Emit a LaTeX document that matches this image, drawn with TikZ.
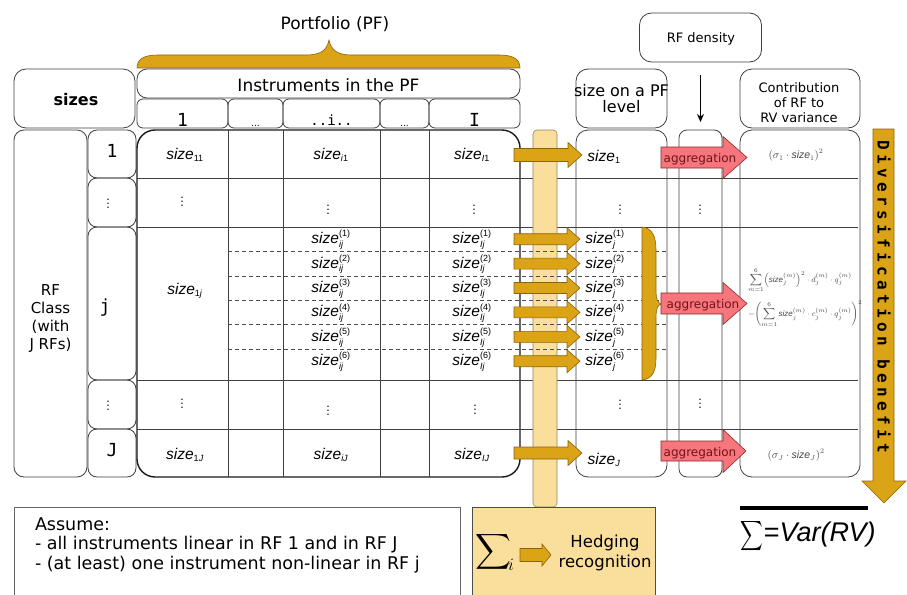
\documentclass[tikz,border=0pt]{standalone}
\usepackage{amsmath}
\usepackage{graphicx}
\usepackage{fontspec}
\setmainfont{DejaVu Sans}
\newfontfamily\arialf{Liberation Sans}
\newfontfamily\monof{DejaVu Sans Mono}
\newfontfamily\divf[LetterSpace=27]{DejaVu Sans Mono}
\usetikzlibrary{arrows.meta}
\definecolor{gold}{RGB}{219,163,22}
\definecolor{golddark}{RGB}{140,100,10}
\definecolor{lightgold}{RGB}{249,222,156}
\definecolor{lgline}{RGB}{150,130,90}
\definecolor{pinkfill}{RGB}{247,117,124}
\definecolor{pinkline}{RGB}{140,40,40}
\definecolor{aggtext}{RGB}{110,20,25}
\definecolor{frm}{RGB}{70,70,70}
\newcommand\fsz[1]{\fontsize{#1}{#1}\selectfont}
\newcommand\subsz[1]{\mbox{\fsz{9}#1}}
\newcommand\supsz[1]{\mbox{\fsz{9}#1}}
\newcommand\szA[1]{\textit{size}$_{\subsz{#1}}$}
\newcommand\szB[2]{\textit{size}$_{\subsz{#1}}^{\supsz{#2}}$}
\newcommand\szt{\text{\arialf\itshape size}}
\newcommand\blockarr[7]{\path[#1] (#2,#5-#6/2) -- (#4,#5-#6/2) -- (#4,#5-#7/2) -- (#3,#5) -- (#4,#5+#7/2) -- (#4,#5+#6/2) -- (#2,#5+#6/2) -- cycle;}
\begin{document}
\begin{tikzpicture}[x=1pt,y=-1pt,
  every node/.style={inner sep=0pt,outer sep=0pt},
  rbox/.style={draw=black!75, line width=0.8pt, rounded corners=#1},
  rbox/.default=10pt,
  tbl/.style={draw=black!90, line width=1.4pt, rounded corners=18pt},
  gridl/.style={draw=black!75, line width=0.7pt},
  dashl/.style={draw=black!70, line width=0.6pt, dash pattern=on 4pt off 3pt},
  goldarr/.style={fill=gold, draw=golddark, line width=0.6pt},
  pinkarr/.style={fill=pinkfill, draw=pinkline, line width=0.6pt},
  cell/.style={font=\arialf\fsz{15.5}, anchor=base},
  dots/.style={font=\fsz{11}},
  aggt/.style={font=\fsz{12}, text=aggtext, anchor=base},
  lbl/.style={anchor=base},
  frmt/.style={text=frm}]
\useasboundingbox (0,0) rectangle (907,594);
\fill[white] (0,0) rectangle (907,594);

% top brace and title
\path[fill=gold, draw=golddark, line width=0.6pt] (137,68) .. controls (137,59) and (144,55) .. (158,55) -- (306,55) .. controls (321,55) and (327,50) .. (329,40) .. controls (331,50) and (337,55) .. (352,55) -- (499,55) .. controls (513,55) and (520,59) .. (520,68) -- cycle;
\node[lbl, font=\fsz{17}] (pf) at (335,30) {Portfolio (PF)};

% header boxes
\node[rbox=12pt, minimum width=121pt, minimum height=59pt] (sizesb) at (74.5,98.5) {};
\node[lbl, font=\bfseries\fsz{16}] (sizest) at (76,105) {sizes};
\node[rbox=10pt, minimum width=383pt, minimum height=29pt] (instr) at (328.5,83.5) {};
\node[lbl, font=\fsz{17}] (instrt) at (328.5,91) {Instruments in the PF};
\foreach \nm/\cx/\w in {c1/182.5/91, c2/255.5/55, c3/331.5/97, c4/404.5/49, c5/474.5/91}
  \node[rbox=6pt, minimum width=\w pt, minimum height=29pt] (\nm) at (\cx,113.5) {};
\node[lbl, font=\monof\fsz{18}] (c1t) at (182.5,126) {1};
\node[lbl, font=\fsz{9}] (c2t) at (255.5,126) {...};
\node[lbl, font=\monof\fsz{14}] (c3t) at (331.5,125) {..i..};
\node[lbl, font=\fsz{9}] (c4t) at (404.5,126) {...};
\node[lbl, font=\monof\fsz{18}] (c5t) at (474.5,126) {I};

% left columns
\node[rbox=10pt, minimum width=73pt, minimum height=347pt] (rfclass) at (50.5,303.5) {};
\node[font=\fontsize{15}{18}\selectfont, align=center] (rfclasst) at (50.5,319) {RF\\Class\\(with\\J RFs)};
\foreach \nm/\cy/\h in {r1/154/48, r2/202.5/49, r3/303.5/153, r4/404.5/49, r5/453/48}
  \node[rbox=9pt, minimum width=48pt, minimum height=\h pt] (\nm) at (112,\cy) {};
\node[font=\monof\fsz{18}] (r1t) at (112,151) {1};
\node[dots] (r2t) at (108,201) {$\vdots$};
\node[font=\monof\fsz{18}] (r3t) at (105,308) {j};
\node[dots] (r4t) at (108,403) {$\vdots$};
\node[font=\monof\fsz{18}] (r5t) at (112,450) {J};

% right column boxes
\node[rbox=12pt, minimum width=91pt, minimum height=59pt] (szhdr) at (621.5,98.5) {};
\node[lbl, font=\fsz{16}] (szh1) at (621.5,96.5) {size on a PF};
\node[lbl, font=\fsz{16}] (szh2) at (621.5,112.5) {level};
\node[rbox=12pt, minimum width=91pt, minimum height=347pt] (szbody) at (621.5,303.5) {};
\node[rbox=12pt, minimum width=122pt, minimum height=49pt] (dhdr) at (700.5,37.5) {};
\node[lbl, font=\fsz{13}] (dhdrt) at (701,42.5) {RF density};
\node[rbox=8pt, minimum width=43pt, minimum height=347pt] (dbody) at (700.5,303.5) {};
\node[rbox=12pt, minimum width=120pt, minimum height=59pt] (chdr) at (800,98.5) {};
\node[lbl, font=\fsz{13}] (ch1) at (799,92.5) {Contribution};
\node[lbl, font=\fsz{13}] (ch2) at (799,107.5) {of RF to};
\node[lbl, font=\fsz{13}] (ch3) at (799,122.5) {RV variance};
\node[rbox=12pt, minimum width=120pt, minimum height=347pt] (cbody) at (800,303.5) {};
\draw[-{Stealth[length=8pt,width=7pt]}, line width=1pt] ([yshift=-13pt]dhdr.south) -- ([yshift=8pt]dbody.north);

% table
\draw[tbl] (137,130) rectangle (520,477);
\foreach \x in {228,283,380,429} \draw[gridl] (\x,130) -- (\x,477);
\foreach \y in {178,227,380,429} \draw[gridl] (137,\y) -- (858,\y);

% hedging bar and boxes
\node[draw=lgline, fill=lightgold, rounded corners=4pt, line width=0.6pt, minimum width=24pt, minimum height=377pt] (bar) at (545,318.5) {};
\node[draw=black!70, fill=lightgold, line width=0.8pt, minimum width=183pt, minimum height=93pt] (hedge) at (563.5,553.5) {};
\node[draw=black!60, line width=0.8pt, minimum width=446pt, minimum height=93pt] (assume) at (237,553.5) {};

% dashed sub-rows
\foreach \y in {251.4,275.8,300.2,324.6,349} \draw[dashl] (228,\y) -- (667,\y);

% golden arrows
\blockarr{goldarr}{514}{582}{568}{155}{13}{25}
\foreach \y in {239.2,263.6,288,312.4,336.8,361.2} {\blockarr{goldarr}{514}{580}{567}{\y}{11}{23}}
\blockarr{goldarr}{514}{582}{568}{453}{12}{25}

% brace in size column
\path[fill=gold, draw=golddark, line width=0.6pt] (642,227) .. controls (652,228) and (656,236) .. (656,250) -- (656,292) .. controls (656,299) and (658,303) .. (661,304) .. controls (658,305) and (656,309) .. (656,316) -- (656,358) .. controls (656,372) and (652,379) .. (642,380) -- cycle;

% aggregation arrows
\blockarr{pinkarr}{661}{747}{723}{157.5}{21}{42}
\blockarr{pinkarr}{661}{747}{723}{303.5}{21}{42}
\blockarr{pinkarr}{661}{746}{723}{451}{20}{43}
\node[aggt] (ag1) at (700,162) {aggregation};
\node[aggt] (ag2) at (703,308) {aggregation};
\node[aggt] (ag3) at (700,456) {aggregation};

% diversification arrow
\path[goldarr] (873,129) -- (894,129) -- (894,481) -- (906,481) -- (884,503) -- (862,481) -- (873,481) -- cycle;
\node[rotate=-90, font=\divf\bfseries\fsz{16}] (div) at (884,297) {Diversification benefit};

% cell texts
\node[cell] (s11) at (185,159) {\szA{11}};
\node[cell] (si1) at (331,159) {\szA{\textit{i}1}};
\node[cell] (sI1) at (472,159) {\szA{\textit{I}1}};
\node[cell] (s1) at (604,161) {\szA{1}};
\node[dots] (d21) at (182,199) {$\vdots$};
\node[dots] (d22) at (328,207) {$\vdots$};
\node[dots] (d23) at (474,207) {$\vdots$};
\node[dots] (d24) at (620,207) {$\vdots$};
\node[dots] (d25) at (700,207) {$\vdots$};
\node[cell] (s1j) at (185,294) {\szA{1\textit{j}}};
\foreach \y [count=\k] in {239.2,263.6,288,312.4,336.8,361.2} {
  \node[cell] (sij\k) at (331,\y+4.5) {\szB{\textit{ij}}{(\k)}};
  \node[cell] (sIj\k) at (472,\y+4.5) {\szB{\textit{Ij}}{(\k)}};
  \node[cell] (sj\k) at (605,\y+4.5) {\szB{\textit{j}}{(\k)}};
}
\node[dots] (d41) at (182,401) {$\vdots$};
\node[dots] (d42) at (328,408) {$\vdots$};
\node[dots] (d43) at (475,407) {$\vdots$};
\node[dots] (d44) at (620,402) {$\vdots$};
\node[dots] (d45) at (700,401) {$\vdots$};
\node[cell] (s1J) at (185,459) {\szA{1\textit{J}}};
\node[cell] (siJ) at (331,459) {\szA{\textit{iJ}}};
\node[cell] (sIJ) at (472,459) {\szA{\textit{IJ}}};
\node[cell] (sJ) at (604,464) {\szA{\textit{J}}};

% formulas
\node[frmt, font=\fsz{10.5}] (fr1) at (796,155) {$\left(\sigma_1\cdot\szt_1\right)^2$};
\node[frmt, font=\fsz{10.5}] (fr3) at (796,455) {$\left(\sigma_J\cdot\szt_J\right)^2$};
\node[frmt, font=\fsz{8}, anchor=west] (fr2a) at (748,280) {$\displaystyle\sum_{m=1}^{6}\Bigl(\szt_j^{(m)}\Bigr)^{2}\cdot d_j^{(m)}\cdot q_j^{(m)}$};
\node[frmt, font=\fsz{8}, anchor=west] (fr2b) at (748,314) {$\displaystyle-\Biggl(\sum_{m=1}^{6}\szt_j^{(m)}\cdot c_j^{(m)}\cdot q_j^{(m)}\Biggr)^{2}$};

% bottom texts
\node[lbl, anchor=base west, font=\fsz{17.5}] (as1) at (35,530) {Assume:};
\node[lbl, anchor=base west, font=\fsz{17.5}] (as2) at (35,549.5) {- all instruments linear in RF 1 and in RF J};
\node[lbl, anchor=base west, font=\fsz{17.5}] (as3) at (35,569) {- (at least) one instrument non-linear in RF j};

\node[anchor=base] (hsum) at (493,558) {\fsz{27}$\displaystyle\sum$};
\node[anchor=base, font=\fsz{16}] (hi) at (511,570) {$i$};
\blockarr{goldarr}{520}{551}{542}{555}{13}{22}
\node[lbl, font=\fsz{16.5}] (hed1) at (605,547) {Hedging};
\node[lbl, font=\fsz{16.5}] (hed2) at (605,567) {recognition};

\draw[line width=3.5pt] (740,508) -- (868,508);
\node[anchor=base west] (sumv) at (740,541) {\scalebox{0.76}[1]{\fsz{20}$\displaystyle\sum$}};
\node[anchor=base west, font=\arialf\fsz{27}] (varrv) at ([xshift=1pt]sumv.base east) {=\itshape Var(RV)};
\end{tikzpicture}
\end{document}
